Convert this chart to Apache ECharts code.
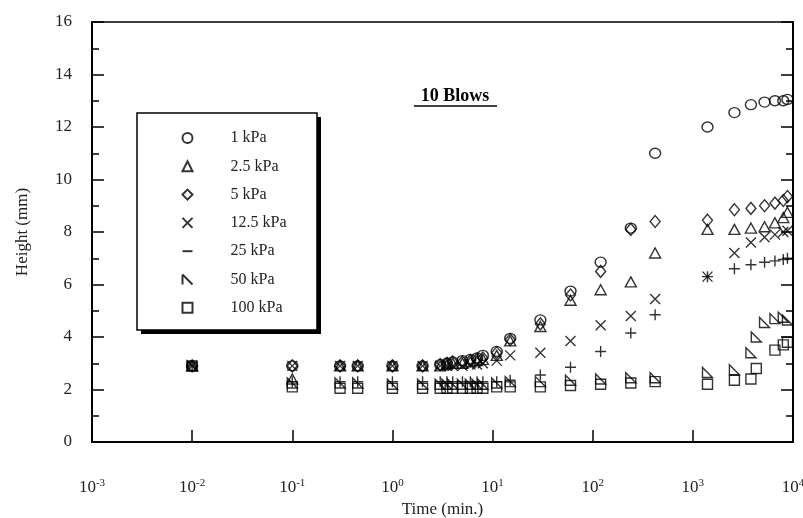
<!DOCTYPE html>
<html><head><meta charset="utf-8">
<script src="https://cdn.jsdelivr.net/npm/echarts@6/dist/echarts.min.js"></script>
<style>html,body{margin:0;padding:0;background:#fff}#c{width:803px;height:518px}</style>
</head><body><div id="c"></div>
<script>
// Time (min.)
const times = [0.01, 0.1, 0.3, 0.45, 1, 2, 3, 3.5, 4, 5, 6, 7, 8, 11, 15, 30, 60, 120, 240, 420, 1400, 2600, 3800, 4300, 5200, 6600, 8000, 8800];
const seriesNames = ['1 kPa', '2.5 kPa', '5 kPa', '12.5 kPa', '25 kPa', '50 kPa', '100 kPa'];
// Height (mm)
const h1   = [2.9, 2.9, 2.9, 2.9, 2.9, 2.9, 2.95, 3.0, 3.05, 3.1, 3.15, 3.2, 3.3, 3.45, 3.95, 4.65, 5.75, 6.85, 8.15, 11.0, 12.0, 12.55, 12.85, null, 12.95, 13.0, 13.0, 13.05];
const h2_5 = [2.9, 2.4, 2.9, 2.9, 2.9, 2.9, 2.9, 2.95, 3.0, 3.0, 3.05, 3.1, 3.15, 3.3, 3.85, 4.4, 5.4, 5.8, 6.1, 7.2, 8.1, 8.1, 8.15, null, 8.2, 8.35, 8.55, 8.75];
const h5   = [2.9, 2.9, 2.9, 2.9, 2.9, 2.9, 2.95, 3.0, 3.05, 3.05, 3.1, 3.15, 3.2, 3.4, 3.9, 4.5, 5.6, 6.5, 8.1, 8.4, 8.45, 8.85, 8.9, null, 9.0, 9.1, 9.2, 9.35];
const h12_5= [2.9, 2.9, 2.9, 2.9, 2.9, 2.9, 2.9, 2.9, 2.9, 2.9, 2.95, 2.95, 3.0, 3.1, 3.3, 3.4, 3.85, 4.45, 4.8, 5.45, 6.3, 7.2, 7.6, null, 7.8, 7.9, 8.0, 8.05];
const h25  = [2.9, 2.3, 2.3, 2.3, 2.3, 2.3, 2.3, 2.3, 2.3, 2.3, 2.3, 2.3, 2.3, 2.3, 2.35, 2.55, 2.85, 3.45, 4.15, 4.85, 6.3, 6.6, 6.75, null, 6.85, 6.9, 6.95, 7.0];
const h50  = [2.9, 2.25, 2.25, 2.25, 2.2, 2.2, 2.2, 2.2, 2.2, 2.2, 2.2, 2.2, 2.2, 2.25, 2.3, 2.3, 2.35, 2.4, 2.45, 2.45, 2.65, 2.75, 3.4, 4.0, 4.55, 4.7, 4.75, 4.65];
const h100 = [2.9, 2.1, 2.05, 2.05, 2.05, 2.05, 2.05, 2.05, 2.05, 2.05, 2.05, 2.05, 2.05, 2.1, 2.1, 2.1, 2.15, 2.2, 2.25, 2.3, 2.2, 2.35, 2.4, 2.8, null, 3.5, 3.7, 3.8];
const yTicks = [0, 2, 4, 6, 8, 10, 12, 14, 16];

const heights = [h1, h2_5, h5, h12_5, h25, h50, h100];
const symbols = ['circle', 'triangle', 'diamond',
  'path://M0,0L10,10M10,0L0,10',
  'path://M5,0L5,10M0,5L10,5',
  'path://M0,0L0,10L10,10Z',
  'rect'];
const sizes = [[11,10], [11,10], [10,12], 10, 11, 10, 10];
const legendIcons = ['circle', 'triangle', 'diamond',
  'path://M0,0L10,10M10,0L0,10',
  'path://M0,0M0,5L10,5M10,10',
  'path://M0,0L0,10M0,0L10,10',
  'rect'];

const FONT = '"Liberation Serif", "Times New Roman", serif';

const series = seriesNames.map((n, i) => ({
  name: n,
  type: 'scatter',
  symbol: symbols[i],
  symbolSize: sizes[i],
  itemStyle: { color: 'none', borderColor: '#000', borderWidth: 1.4 },
  data: times.map((t, j) => heights[i][j] == null ? null : [t, heights[i][j]]).filter(d => d)
}));

const chart = echarts.init(document.getElementById('c'));
chart.setOption({
  animation: false,
  backgroundColor: '#fff',
  grid: { left: 92, right: 10, top: 22, bottom: 76, containLabel: false, outerBoundsMode: 'none',
          show: true, borderColor: '#000', borderWidth: 1.5, backgroundColor: 'transparent' },
  xAxis: [{
    type: 'log', logBase: 10, min: 0.001, max: 10000,
    name: 'Time (min.)', nameLocation: 'middle', nameGap: 57,
    nameTextStyle: { fontFamily: FONT, fontSize: 17, color: '#222' },
    axisLine: { lineStyle: { color: '#000', width: 2 } },
    axisTick: { inside: true, length: 12, lineStyle: { color: '#000', width: 1.5 } },
    splitLine: { show: false },
    axisLabel: {
      margin: 36, fontFamily: FONT, fontSize: 17, color: '#222',
      formatter: v => '10{s|' + Math.round(Math.log10(v)) + '}',
      rich: { s: { fontFamily: FONT, fontSize: 11, color: '#222', padding: [0, 0, 9, 0] } }
    }
  }],
  yAxis: [{
    type: 'value', min: 0, max: 16, interval: 2,
    name: 'Height (mm)', nameLocation: 'middle', nameGap: 61,
    nameTextStyle: { fontFamily: FONT, fontSize: 17, color: '#222' },
    axisLine: { lineStyle: { color: '#000', width: 2 } },
    axisTick: { inside: true, length: 12, lineStyle: { color: '#000', width: 1.5 } },
    minorTick: { show: true, splitNumber: 2, length: 7, lineStyle: { color: '#000', width: 1.5 } },
    splitLine: { show: false },
    axisLabel: { margin: 20, fontFamily: FONT, fontSize: 17, color: '#222', formatter: v => yTicks.includes(v) ? String(v) : '' }
  }, {
    type: 'value', min: 0, max: 16, interval: 2, position: 'right',
    axisLine: { show: true, lineStyle: { color: '#000', width: 2 } },
    axisTick: { show: true, inside: true, length: 12, lineStyle: { color: '#000', width: 1.5 } },
    minorTick: { show: true, splitNumber: 2, length: 7, lineStyle: { color: '#000', width: 1.5 } },
    splitLine: { show: false },
    axisLabel: { show: false }
  }],
  legend: {
    orient: 'vertical', left: 137, top: 113, z: 10,
    padding: [17, 10, 14, 43],
    itemWidth: 10, itemHeight: 10, itemGap: 12.3,
    selectedMode: false,
    textStyle: { fontFamily: FONT, fontSize: 16, color: '#222', padding: [0, 0, 0, 33] },
    data: seriesNames.map((n, i) => ({ name: n, icon: legendIcons[i] }))
  },
  graphic: [
    { type: 'rect', x: 141, y: 117, z: 0, shape: { x: 0, y: 0, width: 180, height: 217 }, style: { fill: '#000' } },
    { type: 'rect', x: 137, y: 113, z: 0, shape: { x: 0, y: 0, width: 180, height: 217 }, style: { fill: '#fff', stroke: '#000', lineWidth: 1.5 } },
    { type: 'text', x: 455, y: 96, z: 5, style: { text: '10 Blows', font: 'bold 18px "Liberation Serif"', fill: '#000', align: 'center', verticalAlign: 'middle' } },
    { type: 'line', z: 5, shape: { x1: 414, y1: 106, x2: 497, y2: 106 }, style: { stroke: '#000', lineWidth: 1.5 } }
  ],
  series: series
});
</script>
</body></html>
